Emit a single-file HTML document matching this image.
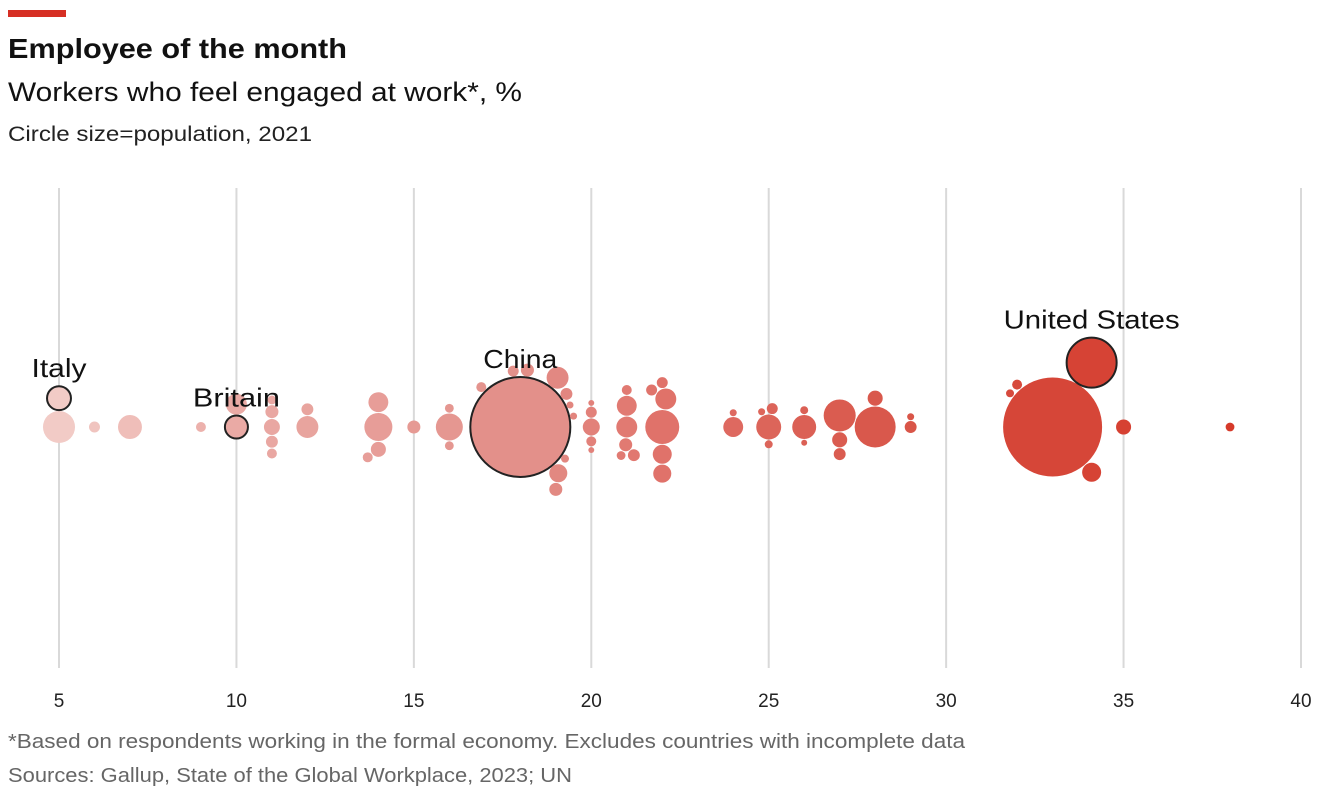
<!DOCTYPE html>
<html><head><meta charset="utf-8">
<style>
html,body{margin:0;padding:0;background:#fff;}
body{width:1320px;height:794px;overflow:hidden;font-family:"Liberation Sans",sans-serif;}
svg text{font-family:"Liberation Sans",sans-serif;}
</style></head>
<body>
<svg id="chart" width="1320" height="794">
  <rect x="8" y="10" width="58" height="7" fill="#d62f24"/>
  <text x="8" y="58" font-size="28" font-weight="bold" fill="#111" textLength="339" lengthAdjust="spacingAndGlyphs">Employee of the month</text>
  <text x="8" y="101" font-size="27" fill="#111" textLength="514" lengthAdjust="spacingAndGlyphs">Workers who feel engaged at work*, %</text>
  <text x="8" y="141" font-size="21" fill="#222" textLength="304" lengthAdjust="spacingAndGlyphs">Circle size=population, 2021</text>
  <g id="grid"></g>
  <g id="marks"></g>
  <g id="labels"></g>
  <text x="8" y="748" font-size="20" fill="#666" textLength="957" lengthAdjust="spacingAndGlyphs">*Based on respondents working in the formal economy. Excludes countries with incomplete data</text>
  <text x="8" y="782" font-size="20" fill="#666" textLength="564" lengthAdjust="spacingAndGlyphs">Sources: Gallup, State of the Global Workplace, 2023; UN</text>
</svg>
<script>
const tickValues = [5,10,15,20,25,30,35,40];
const engagement = [5.0,5.0,6.0,7.0,9.0,10.0,10.0,11,11,11,11,11,12,12,14,14,13.7,14,15,16,16,16,16.9,18,19.07,19.26,19.5,19.4,19.3,19.05,19.0,17.8,18.2,20,20,20,20,20,20.97,20.84,21.2,21,21,21,22,22,21.7,22.1,22,22,24,24,25,24.8,25.1,25,26,26,26,27,27,27,28,28,29,29,34.1,33.0,35.0,38.0,31.8,32.0,34.1];
const population = [81,145,17,81,14,75,62,14,24,11,36,20,20,68,32,56,14,111,24,11,103,11,14,1412,46,9,7,7,20,68,24,17,24,5,14,41,5,17,24,11,20,62,56,14,46,163,17,62,51,17,56,7,88,7,17,9,81,5,9,145,20,32,32,237,7,20,353,1384,32,11,9,14,51];
const labelIndex = [0,5,23,66];
const labelNames = ["Italy","Britain","China","United States"];
const labelWidths = [55,87,74,176];

const svg = document.getElementById('chart');
const NS = 'http://www.w3.org/2000/svg';
const xScale = v => 59 + (v - 5) * (1301 - 59) / 35;
const rScale = p => 1.3306 * Math.sqrt(p);
const CY = 427;
function colorFor(v){
  const stops=[[5,[242,203,198]],[10,[234,170,165]],[18,[227,144,138]],[22,[224,114,106]],[27,[218,92,80]],[33,[214,70,56]],[38,[214,58,42]]];
  if(v<=stops[0][0]) return 'rgb('+stops[0][1]+')';
  for(let i=1;i<stops.length;i++){
    if(v<=stops[i][0]){const a=stops[i-1],b=stops[i];const t=(v-a[0])/(b[0]-a[0]);
      return 'rgb('+a[1].map((c,k)=>Math.round(c+(b[1][k]-c)*t)).join(',')+')';}
  }
  return 'rgb('+stops[stops.length-1][1]+')';
}
const grid = document.getElementById('grid');
tickValues.forEach(t=>{
  const l=document.createElementNS(NS,'line');
  l.setAttribute('x1',xScale(t));l.setAttribute('x2',xScale(t));
  l.setAttribute('y1',188);l.setAttribute('y2',668);
  l.setAttribute('stroke','#d9d9d9');l.setAttribute('stroke-width','2');
  
  
  grid.appendChild(l);
  const tx=document.createElementNS(NS,'text');
  tx.setAttribute('x',xScale(t));tx.setAttribute('y',707);
  tx.setAttribute('text-anchor','middle');tx.setAttribute('font-size','19');tx.setAttribute('fill','#222');
  tx.textContent=t;
  
  
  grid.appendChild(tx);
});
// greedy beeswarm
const items = engagement.map((v,i)=>({i, x:xScale(v), r:rScale(population[i]), v}));
const order = items.slice().sort((a,b)=>b.r-a.r);
const placed=[];
order.forEach(c=>{
  const cand=[0];
  placed.forEach(p=>{
    const d=c.r+p.r+0.8, dx=c.x-p.x;
    if(Math.abs(dx)<d){const h=Math.sqrt(d*d-dx*dx);cand.push(p.y+h,p.y-h);}
  });
  cand.sort((a,b)=>Math.abs(a)-Math.abs(b)||a-b);
  for(const y of cand){
    if(placed.every(p=>Math.hypot(c.x-p.x,y-p.y)>=c.r+p.r+0.8-1e-6)){c.y=y;break;}
  }
  placed.push(c);
});
const marks=document.getElementById('marks');
order.forEach(c=>{
  const e=document.createElementNS(NS,'circle');
  e.setAttribute('cx',c.x);e.setAttribute('cy',CY+c.y);e.setAttribute('r',c.r);
  e.setAttribute('fill',colorFor(c.v));
  const li=labelIndex.indexOf(c.i);
  if(li>=0){e.setAttribute('stroke','#222');e.setAttribute('stroke-width','2');}
  
  
  marks.appendChild(e);
});
const labels=document.getElementById('labels');
labelIndex.forEach((idx,k)=>{
  const c=items[idx];
  const t=document.createElementNS(NS,'text');
  t.setAttribute('x',c.x);t.setAttribute('y',CY+c.y-c.r-9);
  t.setAttribute('text-anchor','middle');t.setAttribute('font-size','26');t.setAttribute('fill','#111');
  t.setAttribute('textLength',labelWidths[k]);t.setAttribute('lengthAdjust','spacingAndGlyphs');
  t.textContent=labelNames[k];
  
  
  labels.appendChild(t);
});
</script>
</body></html>
